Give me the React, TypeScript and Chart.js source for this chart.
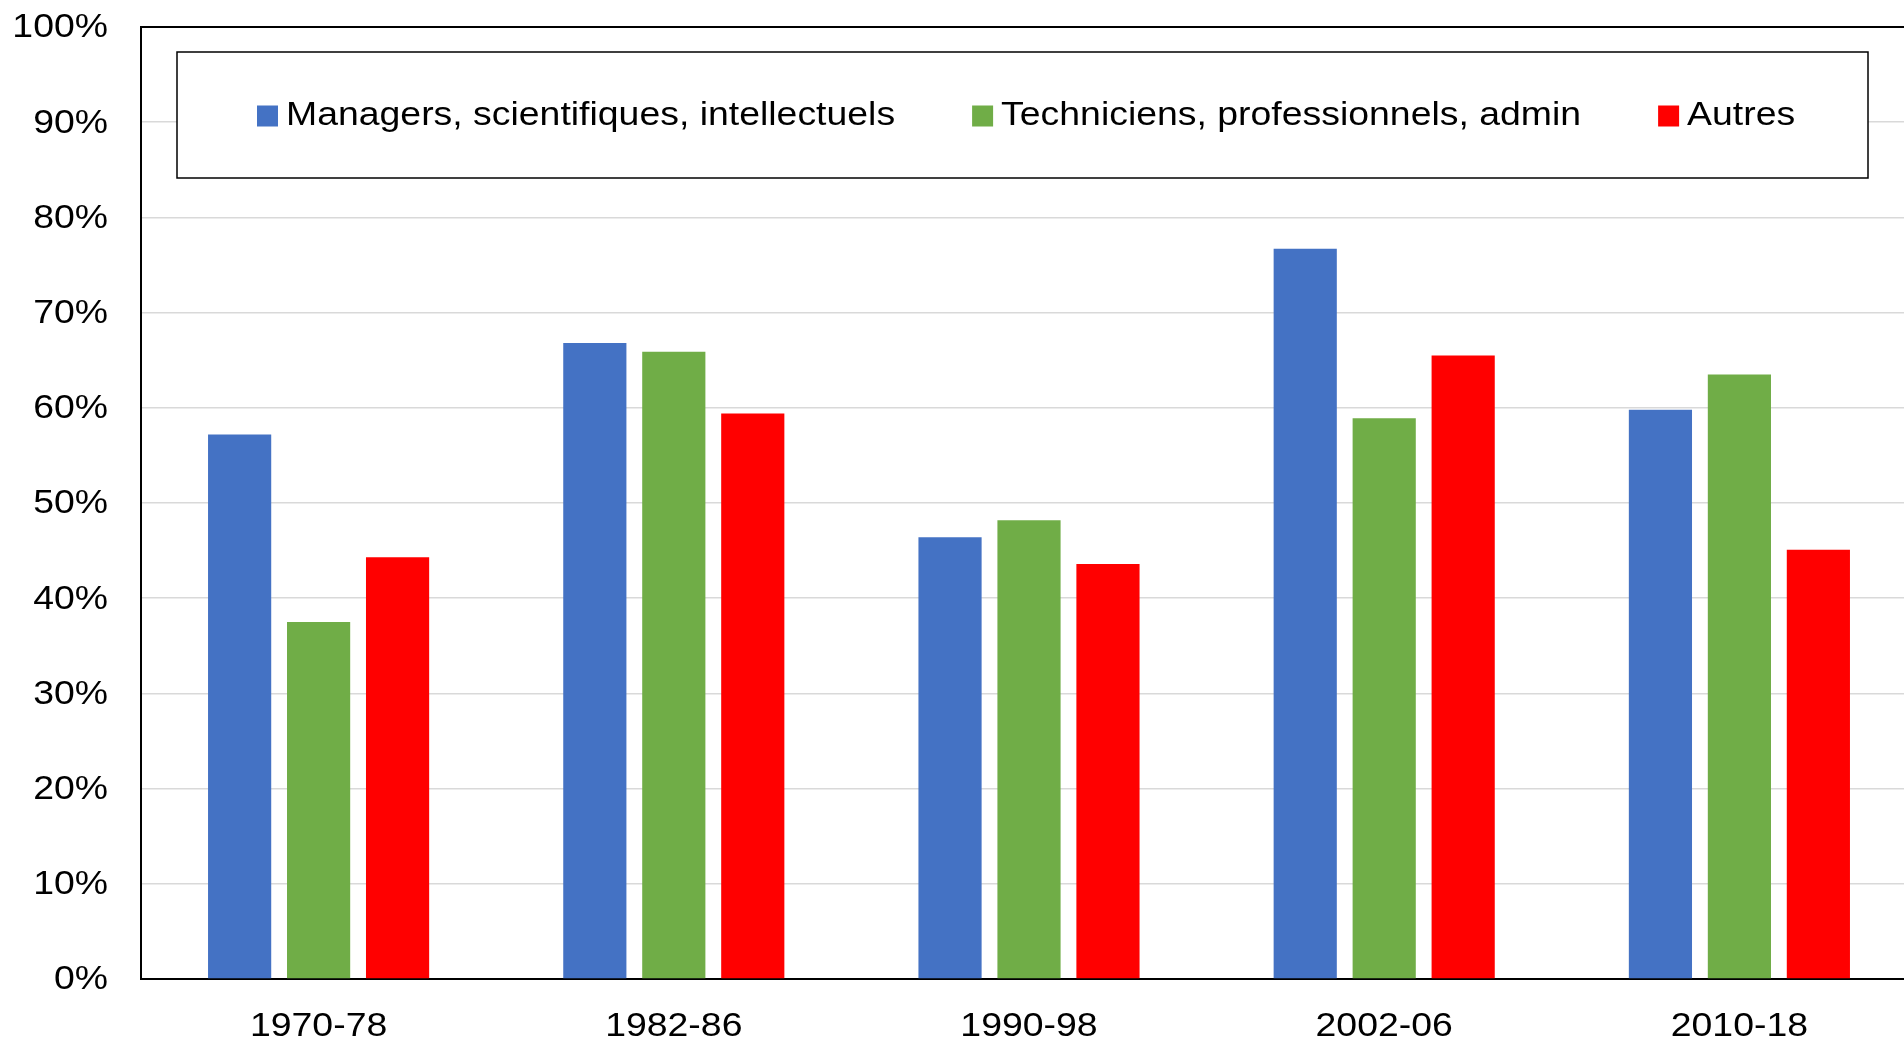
import React, { useEffect, useRef } from "react";
import { Chart, registerables } from "chart.js";

Chart.register(...registerables);

const categories = ["1970-78", "1982-86", "1990-98", "2002-06", "2010-18"];
const managers = [57.2, 66.8, 46.4, 76.7, 59.8];
const techniciens = [37.5, 65.9, 48.2, 58.9, 63.5];
const autres = [44.3, 59.4, 43.6, 65.5, 45.1];
const seriesLabels = [
  "Managers, scientifiques, intellectuels",
  "Techniciens, professionnels, admin",
  "Autres",
];
const seriesColors = ["#4472c4", "#70ad47", "#ff0000"];

const FONT = "'Liberation Sans', Arial, sans-serif";
const FONT_SIZE = 34;
const STRETCH = 1.1;

function drawText(ctx: any, text: string, x: number, y: number, align: "left" | "center" | "right") {
  const w = ctx.measureText(text).width * STRETCH;
  let left = x;
  if (align === "center") left = x - w / 2;
  else if (align === "right") left = x - w;
  ctx.save();
  ctx.translate(left, y);
  ctx.scale(STRETCH, 1);
  ctx.textAlign = "left";
  ctx.textBaseline = "middle";
  ctx.fillText(text, 0, 0);
  ctx.restore();
  return w;
}

const labelsAndLegendPlugin = {
  id: "labelsAndLegend",
  afterDraw(chart: any) {
    const ctx = chart.ctx;
    ctx.save();
    ctx.font = `${FONT_SIZE}px ${FONT}`;
    ctx.fillStyle = "#000000";
    // y tick labels
    const ys = chart.scales.y;
    for (const t of ys.ticks) {
      const py = ys.getPixelForValue(t.value);
      drawText(ctx, `${t.value}%`, ys.right - 33, py + 1, "right");
    }
    // x tick labels
    const xs = chart.scales.x;
    chart.data.labels.forEach((lab: string, i: number) => {
      const px = xs.getPixelForValue(i);
      drawText(ctx, lab, px, xs.top + 48, "center");
    });
    // legend box
    const box = { x: 177, y: 52, w: 1691, h: 126 };
    ctx.fillStyle = "#ffffff";
    ctx.fillRect(box.x, box.y, box.w, box.h);
    ctx.strokeStyle = "#000000";
    ctx.lineWidth = 1.5;
    ctx.strokeRect(box.x, box.y, box.w, box.h);
    const sq = 21;
    const gapSq = 8;
    const gapItem = 77;
    const items = chart.data.datasets.map((d: any) => ({
      label: d.label,
      color: d.backgroundColor,
      w: sq + gapSq + ctx.measureText(d.label).width * STRETCH,
    }));
    let x = box.x + 80;
    const cy = box.y + box.h / 2 + 1;
    for (const it of items) {
      ctx.fillStyle = it.color;
      ctx.fillRect(x, cy - sq / 2, sq, sq);
      ctx.fillStyle = "#000000";
      drawText(ctx, it.label, x + sq + gapSq, cy, "left");
      x += it.w + gapItem;
    }
    ctx.restore();
  },
};

export default function App() {
  const ref = useRef<HTMLCanvasElement>(null);
  useEffect(() => {
    if (!ref.current) return;
    const chart = new Chart(ref.current, {
      type: "bar",
      data: {
        labels: categories,
        datasets: [managers, techniciens, autres].map((d, i) => ({
          label: seriesLabels[i],
          data: d,
          backgroundColor: seriesColors[i],
          borderWidth: 0,
          categoryPercentage: 0.667,
          barPercentage: 0.8,
        })),
      },
      options: {
        responsive: true,
        maintainAspectRatio: false,
        animation: false,
        layout: { padding: { top: 27, right: 0, left: 0, bottom: 0 } },
        plugins: {
          legend: { display: false },
          tooltip: { enabled: false },
        },
        scales: {
          x: {
            grid: { display: false, drawTicks: false },
            border: { color: "#000000", width: 2 },
            ticks: { display: false },
            afterFit(scale: any) {
              scale.height = 63;
            },
          },
          y: {
            min: 0,
            max: 100,
            grid: {
              drawTicks: false,
              color: (c: any) => (c.tick && c.tick.value === 100 ? "#000000" : "#d9d9d9"),
              lineWidth: (c: any) => (c.tick && c.tick.value === 100 ? 2 : 1.5),
            },
            border: { color: "#000000", width: 2 },
            ticks: { stepSize: 10, display: false },
            afterFit(scale: any) {
              scale.width = 141;
            },
          },
        },
      },
      plugins: [labelsAndLegendPlugin],
    });
    return () => chart.destroy();
  }, []);
  return (
    <div style={{ position: "fixed", left: 0, top: 0, width: "100vw", height: "100vh", overflow: "hidden", background: "#fff" }}>
      <div style={{ position: "relative", width: "1917px", height: "100%" }}>
        <canvas ref={ref} />
      </div>
    </div>
  );
}
